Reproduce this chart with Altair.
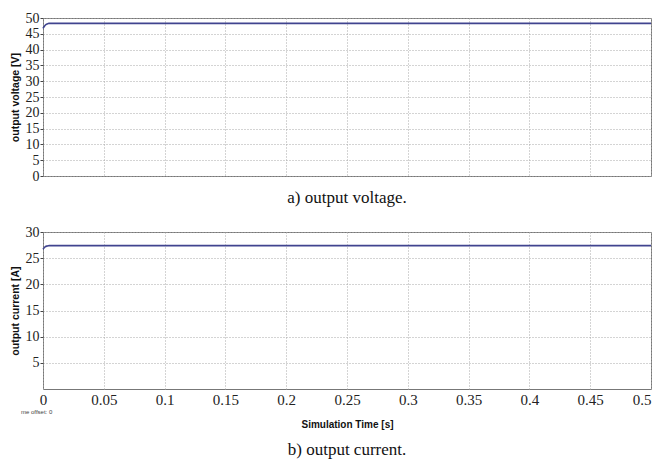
import altair as alt
import pandas as pd

time = [0, 0.001, 0.002, 0.003, 0.004, 0.005, 0.007, 0.5]
voltage = [46.7, 47.3, 47.8, 48.05, 48.2, 48.3, 48.3, 48.3]
current = [26.7, 27.0, 27.2, 27.3, 27.35, 27.4, 27.4, 27.4]

x_ticks = [0, 0.05, 0.1, 0.15, 0.2, 0.25, 0.3, 0.35, 0.4, 0.45, 0.5]
v_ticks = [0, 5, 10, 15, 20, 25, 30, 35, 40, 45, 50]
i_ticks = [5, 10, 15, 20, 25, 30]

df = pd.DataFrame({"t": time, "v": voltage, "i": current})

LINE = "#40448f"
SERIF = "Liberation Serif"
SANS = "Liberation Sans"
W = 608

grid_axis = dict(gridColor="#a8a8a8", gridDash=[1, 2], gridWidth=1)

top_line = alt.Chart(df).mark_line(color=LINE, strokeWidth=1.6, interpolate="monotone").encode(
    x=alt.X("t:Q", scale=alt.Scale(domain=[0, 0.5], nice=False),
            axis=alt.Axis(values=x_ticks, labels=False, ticks=False, domain=False,
                          title=None, **grid_axis)),
    y=alt.Y("v:Q", scale=alt.Scale(domain=[0, 50], nice=False),
            axis=alt.Axis(values=v_ticks, title="output voltage [V]", titleFont=SANS,
                          titleFontSize=10.5, titleFontWeight="bold", titleColor="#111",
                          labelFont=SERIF, labelFontSize=14, labelColor="#222",
                          tickSize=3, tickColor="#444", labelPadding=1, titlePadding=5,
                          domain=False, **grid_axis)),
)

top = alt.layer(top_line).properties(
    width=W, height=158,
    title=alt.TitleParams("a) output voltage.", orient="bottom", font=SERIF,
                          fontSize=17, fontWeight="normal", color="#111", offset=7),
)

bot_line = alt.Chart(df).mark_line(color=LINE, strokeWidth=1.6, interpolate="monotone").encode(
    x=alt.X("t:Q", scale=alt.Scale(domain=[0, 0.5], nice=False),
            axis=alt.Axis(values=x_ticks, format="~g", title="Simulation Time [s]", titleFont=SANS,
                          titleFontSize=10, titleFontWeight="bold", titleColor="#111",
                          labelFont=SERIF, labelFontSize=15, labelColor="#222",
                          labelAlign=alt.expr("datum.value >= 0.5 ? 'right' : 'center'"),
                          ticks=False, labelPadding=3, titlePadding=12, domain=False,
                          labelFlush=False, **grid_axis)),
    y=alt.Y("i:Q", scale=alt.Scale(domain=[0, 30], nice=False),
            axis=alt.Axis(values=i_ticks, title="output current  [A]", titleFont=SANS,
                          titleFontSize=10.5, titleFontWeight="bold", titleColor="#111",
                          labelFont=SERIF, labelFontSize=14, labelColor="#222",
                          tickSize=3, tickColor="#444", labelPadding=1, titlePadding=5,
                          domain=False, **grid_axis)),
)

offset_note = alt.Chart(pd.DataFrame({"s": ["me offset:  0"]})).mark_text(
    font=SANS, fontSize=6, color="#444", align="left", baseline="middle"
).encode(x=alt.value(-22), y=alt.value(180), text="s:N")

bottom = alt.layer(bot_line, offset_note).properties(
    width=W, height=157,
    title=alt.TitleParams("b) output current.", orient="bottom", font=SERIF,
                          fontSize=17, fontWeight="normal", color="#111", offset=13),
)

chart = alt.vconcat(top, bottom, spacing=17).properties(
    padding={"left": 9, "top": 10, "right": 1, "bottom": 0}
).configure_view(stroke="#777", strokeWidth=1)

chart.save("out.html", embed_options={"renderer": "svg", "actions": False})
